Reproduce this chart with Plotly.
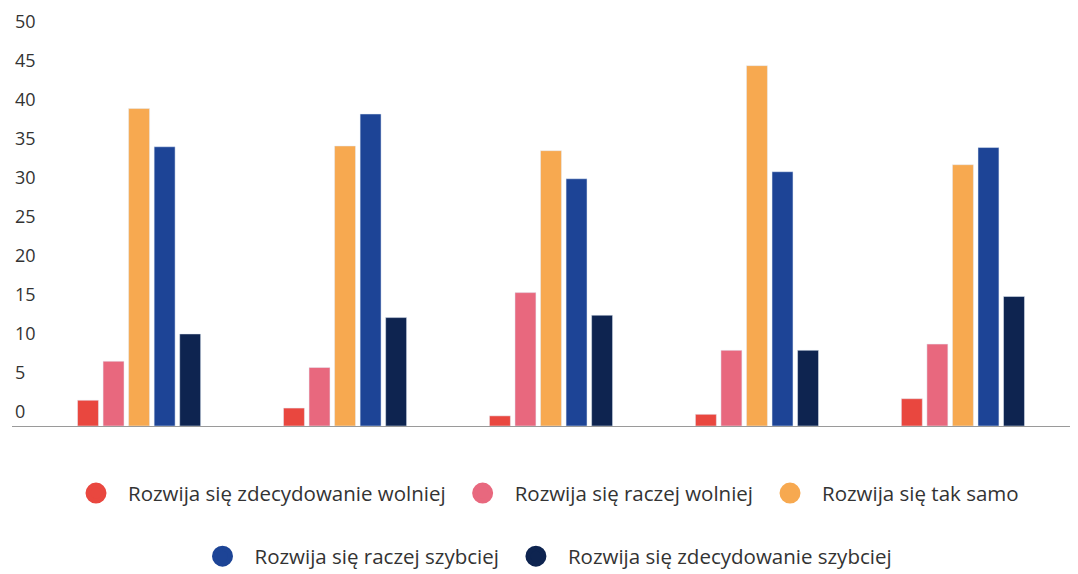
import plotly.graph_objects as go

groups = ["1", "2", "3", "4", "5"]
series_names = [
    "Rozwija się zdecydowanie wolniej",
    "Rozwija się raczej wolniej",
    "Rozwija się tak samo",
    "Rozwija się raczej szybciej",
    "Rozwija się zdecydowanie szybciej",
]
zdecydowanie_wolniej = [3.3, 2.3, 1.3, 1.5, 3.5]
raczej_wolniej = [8.3, 7.5, 17.1, 9.7, 10.5]
tak_samo = [40.7, 35.9, 35.3, 46.2, 33.5]
raczej_szybciej = [35.8, 40.0, 31.7, 32.6, 35.7]
zdecydowanie_szybciej = [11.8, 13.9, 14.2, 9.7, 16.6]
y_ticks = [0, 5, 10, 15, 20, 25, 30, 35, 40, 45, 50]

values = [zdecydowanie_wolniej, raczej_wolniej, tak_samo, raczej_szybciej, zdecydowanie_szybciej]
colors = ["#E9473F", "#E8687E", "#F7A950", "#1D4496", "#0E2450"]
legend_ids = ["legend", "legend", "legend", "legend2", "legend2"]

fig = go.Figure()
for name, vals, col in zip(series_names, values, colors):
    fig.add_trace(go.Bar(x=groups, y=vals, name=name, marker_color=col,
                         showlegend=False, hoverinfo="y+name"))
for name, col, lg in zip(series_names, colors, legend_ids):
    fig.add_trace(go.Scatter(x=[None], y=[None], mode="markers", name=name,
                             marker=dict(symbol="circle", size=16, color=col,
                                         line=dict(color=col, width=5)),
                             legend=lg, showlegend=True))

font = "Open Sans, sans-serif"
fig.update_layout(
    width=1070, height=566,
    margin=dict(l=4, r=2, t=0, b=148, autoexpand=False),
    paper_bgcolor="white", plot_bgcolor="white",
    barmode="group", bargap=0.38, bargroupgap=0.18,
    font=dict(family=font, color="#333333", size=18),
    xaxis=dict(range=[-0.617, 4.549], showticklabels=False, showgrid=False,
               zeroline=False, showline=True, linecolor="#9a9a9a", linewidth=1,
               ticks="", fixedrange=True, automargin=False),
    yaxis=dict(range=[0, 53.59], tickvals=y_ticks, showgrid=False, zeroline=False,
               showline=False, ticks="", ticklabelposition="inside",
               ticklabelshift=-14,
               tickfont=dict(size=18, color="#333333"),
               fixedrange=True, automargin=False),
    legend=dict(orientation="h", x=0.5, xanchor="center", y=-0.113, yanchor="top",
                font=dict(size=20.5, color="#333333"), itemwidth=54),
    legend2=dict(orientation="h", x=0.5, xanchor="center", y=-0.264, yanchor="top",
                 font=dict(size=20.5, color="#333333"), itemwidth=54),
)

fig.write_html("out.html")
